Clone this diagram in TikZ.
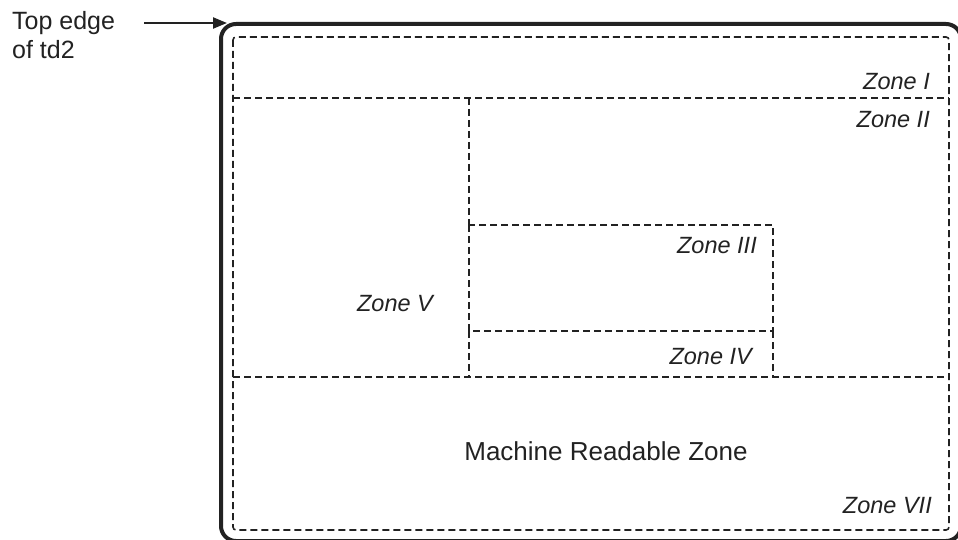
\documentclass[tikz,border=0pt]{standalone}
\usepackage{fontspec}
\setmainfont{Liberation Sans}
\usetikzlibrary{arrows.meta}
\definecolor{ink}{HTML}{222222}

\begin{document}
\begin{tikzpicture}[x=1pt, y=-1pt,
  zone/.style={draw=ink, line width=1.6pt, dash pattern=on 7pt off 4pt},
  zlabel/.style={font=\fontsize{23.5}{28}\selectfont\itshape, text=ink, anchor=base east},
  every node/.style={inner sep=0pt}
]
\useasboundingbox (0,0) rectangle (958,540);
\begin{scope}
\clip (0,0) rectangle (958,540);

% Document outline
\draw[ink, line width=4pt, rounded corners=15pt] (221,24) rectangle (961,541);

% Zone borders
\draw[zone, rounded corners=3pt] (233,37) rectangle (949,530);
\draw[zone] (233,98) -- (949,98);
\draw[zone] (469,98) -- (469,225);
\draw[zone] (469,225) rectangle (773,331);
\draw[zone] (469,331) -- (469,377);
\draw[zone] (773,331) -- (773,377);
\draw[zone] (233,377) -- (949,377);
\end{scope}

% Zone names
\node[zlabel] (z1) at (930,90)  {Zone I};
\node[zlabel] (z2) at (930,128) {Zone II};
\node[zlabel] (z3) at (757,253) {Zone III};
\node[zlabel] (z4) at (752,364) {Zone IV};
\node[zlabel, anchor=base] (z5) at (395,311.5) {Zone V};
\node[font=\fontsize{26}{30}\selectfont, text=ink, anchor=base] (mrz) at (606,460) {Machine Readable Zone};
\node[zlabel] (z7) at (932,513) {Zone VII};

% Pointer to the top edge
\node[font=\fontsize{25}{29}\selectfont, text=ink, align=left, anchor=base west] (edge) at (12,59) {Top edge\\of td2};
\coordinate (corner) at (227,23);
\draw[ink, line width=2.2pt, -{Triangle[length=14pt, width=11pt]}] (144,23) -- (corner);
\end{tikzpicture}
\end{document}
